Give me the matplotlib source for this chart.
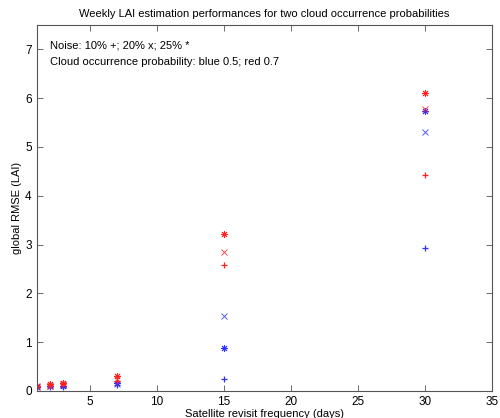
import matplotlib
matplotlib.use("Agg")
import matplotlib.pyplot as plt
import numpy as np

plt.rcParams['font.family'] = ['Liberation Sans', 'DejaVu Sans']

revisit = [1, 2, 3, 7, 15, 30]

# blue: cloud occurrence probability 0.5
blue_10 = [0.07, 0.08, 0.08, 0.12, 0.25, 2.93]
blue_20 = [0.08, 0.09, 0.12, 0.15, 1.53, 5.30]
blue_25 = [0.08, 0.09, 0.10, 0.17, 0.87, 5.73]
# red: cloud occurrence probability 0.7
red_10 = [0.09, 0.12, 0.13, 0.20, 2.57, 4.42]
red_20 = [0.09, 0.10, 0.14, 0.25, 2.85, 5.78]
red_25 = [0.10, 0.15, 0.17, 0.30, 3.22, 6.10]

blue = '#3030ff'
red = '#ff2020'
star = (8, 2, 0)  # matlab-style asterisk (+ and x combined)

fig = plt.figure(figsize=(5, 4.18), dpi=100)
ax = fig.add_axes([0.073, 0.065, 0.911, 0.875])

kw = dict(linestyle='none', markersize=5)
ax.plot(revisit, blue_10, '+', color=blue, markeredgewidth=0.9, **kw)
ax.plot(revisit, blue_20, 'x', color=blue, alpha=0.8, markeredgewidth=0.7, **kw)
ax.plot(revisit, blue_25, marker=star, color=blue, markeredgewidth=0.7, **kw)
ax.plot(revisit, red_10, '+', color=red, markeredgewidth=0.9, **kw)
ax.plot(revisit, red_20, 'x', color=red, alpha=0.8, markeredgewidth=0.7, **kw)
ax.plot(revisit, red_25, marker=star, color=red, markeredgewidth=0.7, **kw)

ax.set_xlim(1, 35)
ax.set_ylim(0, 7.5)
ax.set_xticks([5, 10, 15, 20, 25, 30, 35])
ax.set_yticks(range(8))
ax.tick_params(direction='in', top=True, right=True, labelsize=8.5, length=4,
               color='#555555', width=0.6)
for s in ax.spines.values():
    s.set_color('#555555')
    s.set_linewidth(0.8)

ax.set_title('Weekly LAI estimation performances for two cloud occurrence probabilities',
             fontsize=8, pad=6)
ax.set_xlabel('Satellite revisit frequency (days)', fontsize=8, labelpad=1)
ax.set_ylabel('global RMSE (LAI)', fontsize=8, labelpad=2)

ax.text(0.03, 0.945, 'Noise: 10% +; 20% x; 25% *', transform=ax.transAxes,
        fontsize=8, va='center')
ax.text(0.03, 0.898, 'Cloud occurrence probability: blue 0.5; red 0.7',
        transform=ax.transAxes, fontsize=8, va='center')

fig.savefig('out.png', dpi=100)
